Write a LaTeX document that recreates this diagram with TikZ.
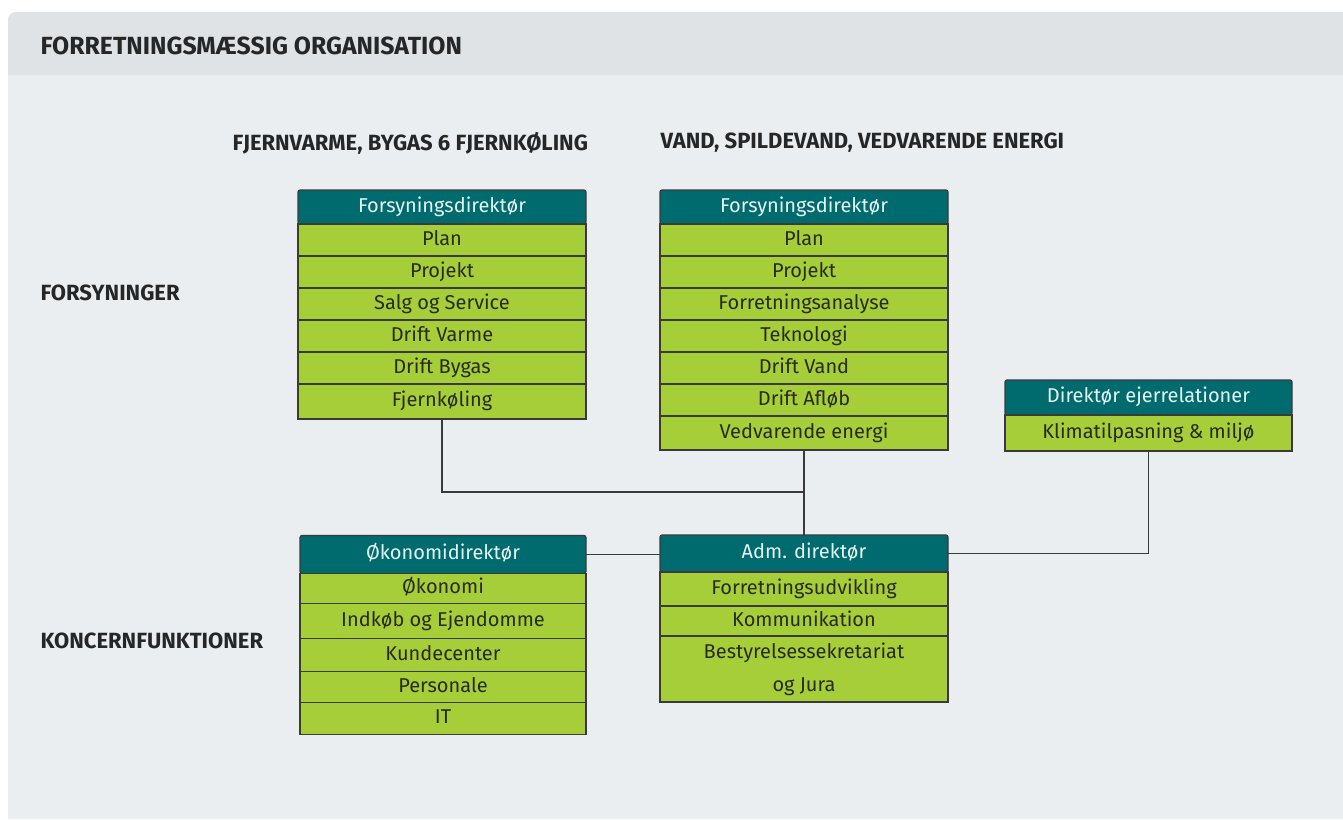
\documentclass[tikz,border=0pt]{standalone}
\usepackage{fontspec}
\setmainfont{Fira Sans}
\usetikzlibrary{positioning}
\definecolor{headteal}{HTML}{006B6E}
\definecolor{rowgreen}{HTML}{A6CE39}
\definecolor{panelgrey}{HTML}{EAEEF1}
\definecolor{bandgrey}{HTML}{DFE3E6}
\definecolor{linegrey}{HTML}{3A3A3A}
\definecolor{textdark}{HTML}{2A2A1E}
\definecolor{headtext}{HTML}{E6F3F2}

\begin{document}
\begin{tikzpicture}[x=0.5pt, y=-0.5pt, node distance=0pt, semithick,
    head/.style={rectangle, fill=headteal, draw=linegrey, text=headtext, minimum width=144pt, minimum height=17pt, inner sep=0pt, outer sep=0pt, text height=7.2pt, text depth=2.2pt, rounded corners=1pt, font=\fontsize{10}{11}\selectfont},
    cell/.style={rectangle, fill=rowgreen, draw=linegrey, text=textdark, minimum width=144pt, minimum height=16pt, inner sep=0pt, outer sep=0pt, text height=7.2pt, text depth=2.2pt, font=\fontsize{10}{11}\selectfont},
    label/.style={anchor=west, inner sep=0pt, text=black!85, font=\bfseries\fontsize{11}{13}\selectfont}]
			\useasboundingbox (0,0) rectangle (1343,819);
			\fill [white] (0,0) rectangle (1343,819);
			\fill [panelgrey] (8,819) [rounded corners=4pt] -- (8,12) [sharp corners] -- (1343,12) -- (1343,819) -- cycle;
			\fill [bandgrey] (8,75) [rounded corners=4pt] -- (8,12) [sharp corners] -- (1343,12) -- (1343,75) -- cycle;
			\node [label, font=\bfseries\fontsize{12.4}{14}\selectfont] (TITLE) at (40,46) {FORRETNINGSMÆSSIG ORGANISATION};
			\node [label] (COLA) at (232,143) {FJERNVARME, BYGAS 6 FJERNKØLING};
			\node [label] (COLB) at (660,143) {VAND, SPILDEVAND, VEDVARENDE ENERGI};
			\node [label] (ROWA) at (40,293) {FORSYNINGER};
			\node [label] (ROWB) at (40,641) {KONCERNFUNKTIONER};
			% fjernvarme
			\node [head] (B1H) at (442,207) {Forsyningsdirektør};
			\node [cell] (B1R1) [below =of B1H] {Plan};
			\node [cell] (B1R2) [below =of B1R1] {Projekt};
			\node [cell] (B1R3) [below =of B1R2] {Salg og Service};
			\node [cell] (B1R4) [below =of B1R3] {Drift Varme};
			\node [cell] (B1R5) [below =of B1R4] {Drift Bygas};
			\node [cell, minimum height=17.5pt] (B1R6) [below =of B1R5] {Fjernkøling};
			% vand
			\node [head] (B2H) at (804,207) {Forsyningsdirektør};
			\node [cell] (B2R1) [below =of B2H] {Plan};
			\node [cell] (B2R2) [below =of B2R1] {Projekt};
			\node [cell] (B2R3) [below =of B2R2] {Forretningsanalyse};
			\node [cell] (B2R4) [below =of B2R3] {Teknologi};
			\node [cell] (B2R5) [below =of B2R4] {Drift Vand};
			\node [cell] (B2R6) [below =of B2R5] {Drift Afløb};
			\node [cell, minimum height=17pt] (B2R7) [below =of B2R6] {Vedvarende energi};
			% ejerrelationer
			\node [head, minimum width=143.5pt, minimum height=17.5pt] (B3H) at (1148.5,397.5) {Direktør ejerrelationer};
			\node [cell, minimum width=143.5pt, minimum height=18pt] (B3R1) [below =of B3H] {Klimatilpasning \& miljø};
			% okonomi
			\node [head, minimum width=143pt, minimum height=19pt] (B4H) at (443,554.5) {Økonomidirektør};
			\node [cell, minimum width=143pt, minimum height=15pt] (B4R1) [below =of B4H] {Økonomi};
			\node [cell, minimum width=143pt, minimum height=17.5pt] (B4R2) [below =of B4R1] {Indkøb og Ejendomme};
			\node [cell, minimum width=143pt, minimum height=16.5pt] (B4R3) [below =of B4R2] {Kundecenter};
			\node [cell, minimum width=143pt, minimum height=15.5pt] (B4R4) [below =of B4R3] {Personale};
			\node [cell, minimum width=143pt] (B4R5) [below =of B4R4] {IT};
			% adm. direktor
			\node [head, minimum height=18.5pt] (B5H) at (804,553.5) {Adm. direktør};
			\node [cell, minimum height=17pt] (B5R1) [below =of B5H] {Forretningsudvikling};
			\node [cell, minimum height=15pt] (B5R2) [below =of B5R1] {Kommunikation};
			\node [cell, minimum height=33pt, text height=, text depth=, align=center, font=\fontsize{10}{16.5}\selectfont] (B5R3) [below =of B5R2] {Bestyrelsessekretariat\\og Jura};
			% lines
			\coordinate (JOIN) at (804,492);
			\draw [linegrey] (B1R6.south) |- (JOIN);
			\draw [linegrey] (B2R7.south) -- (B5H.north);
			\draw [linegrey] (B4H.east) -- (B4H.east -| B5H.west);
			\draw [linegrey] (B5H.east) -| (B3R1.south);
		\end{tikzpicture}
\end{document}
